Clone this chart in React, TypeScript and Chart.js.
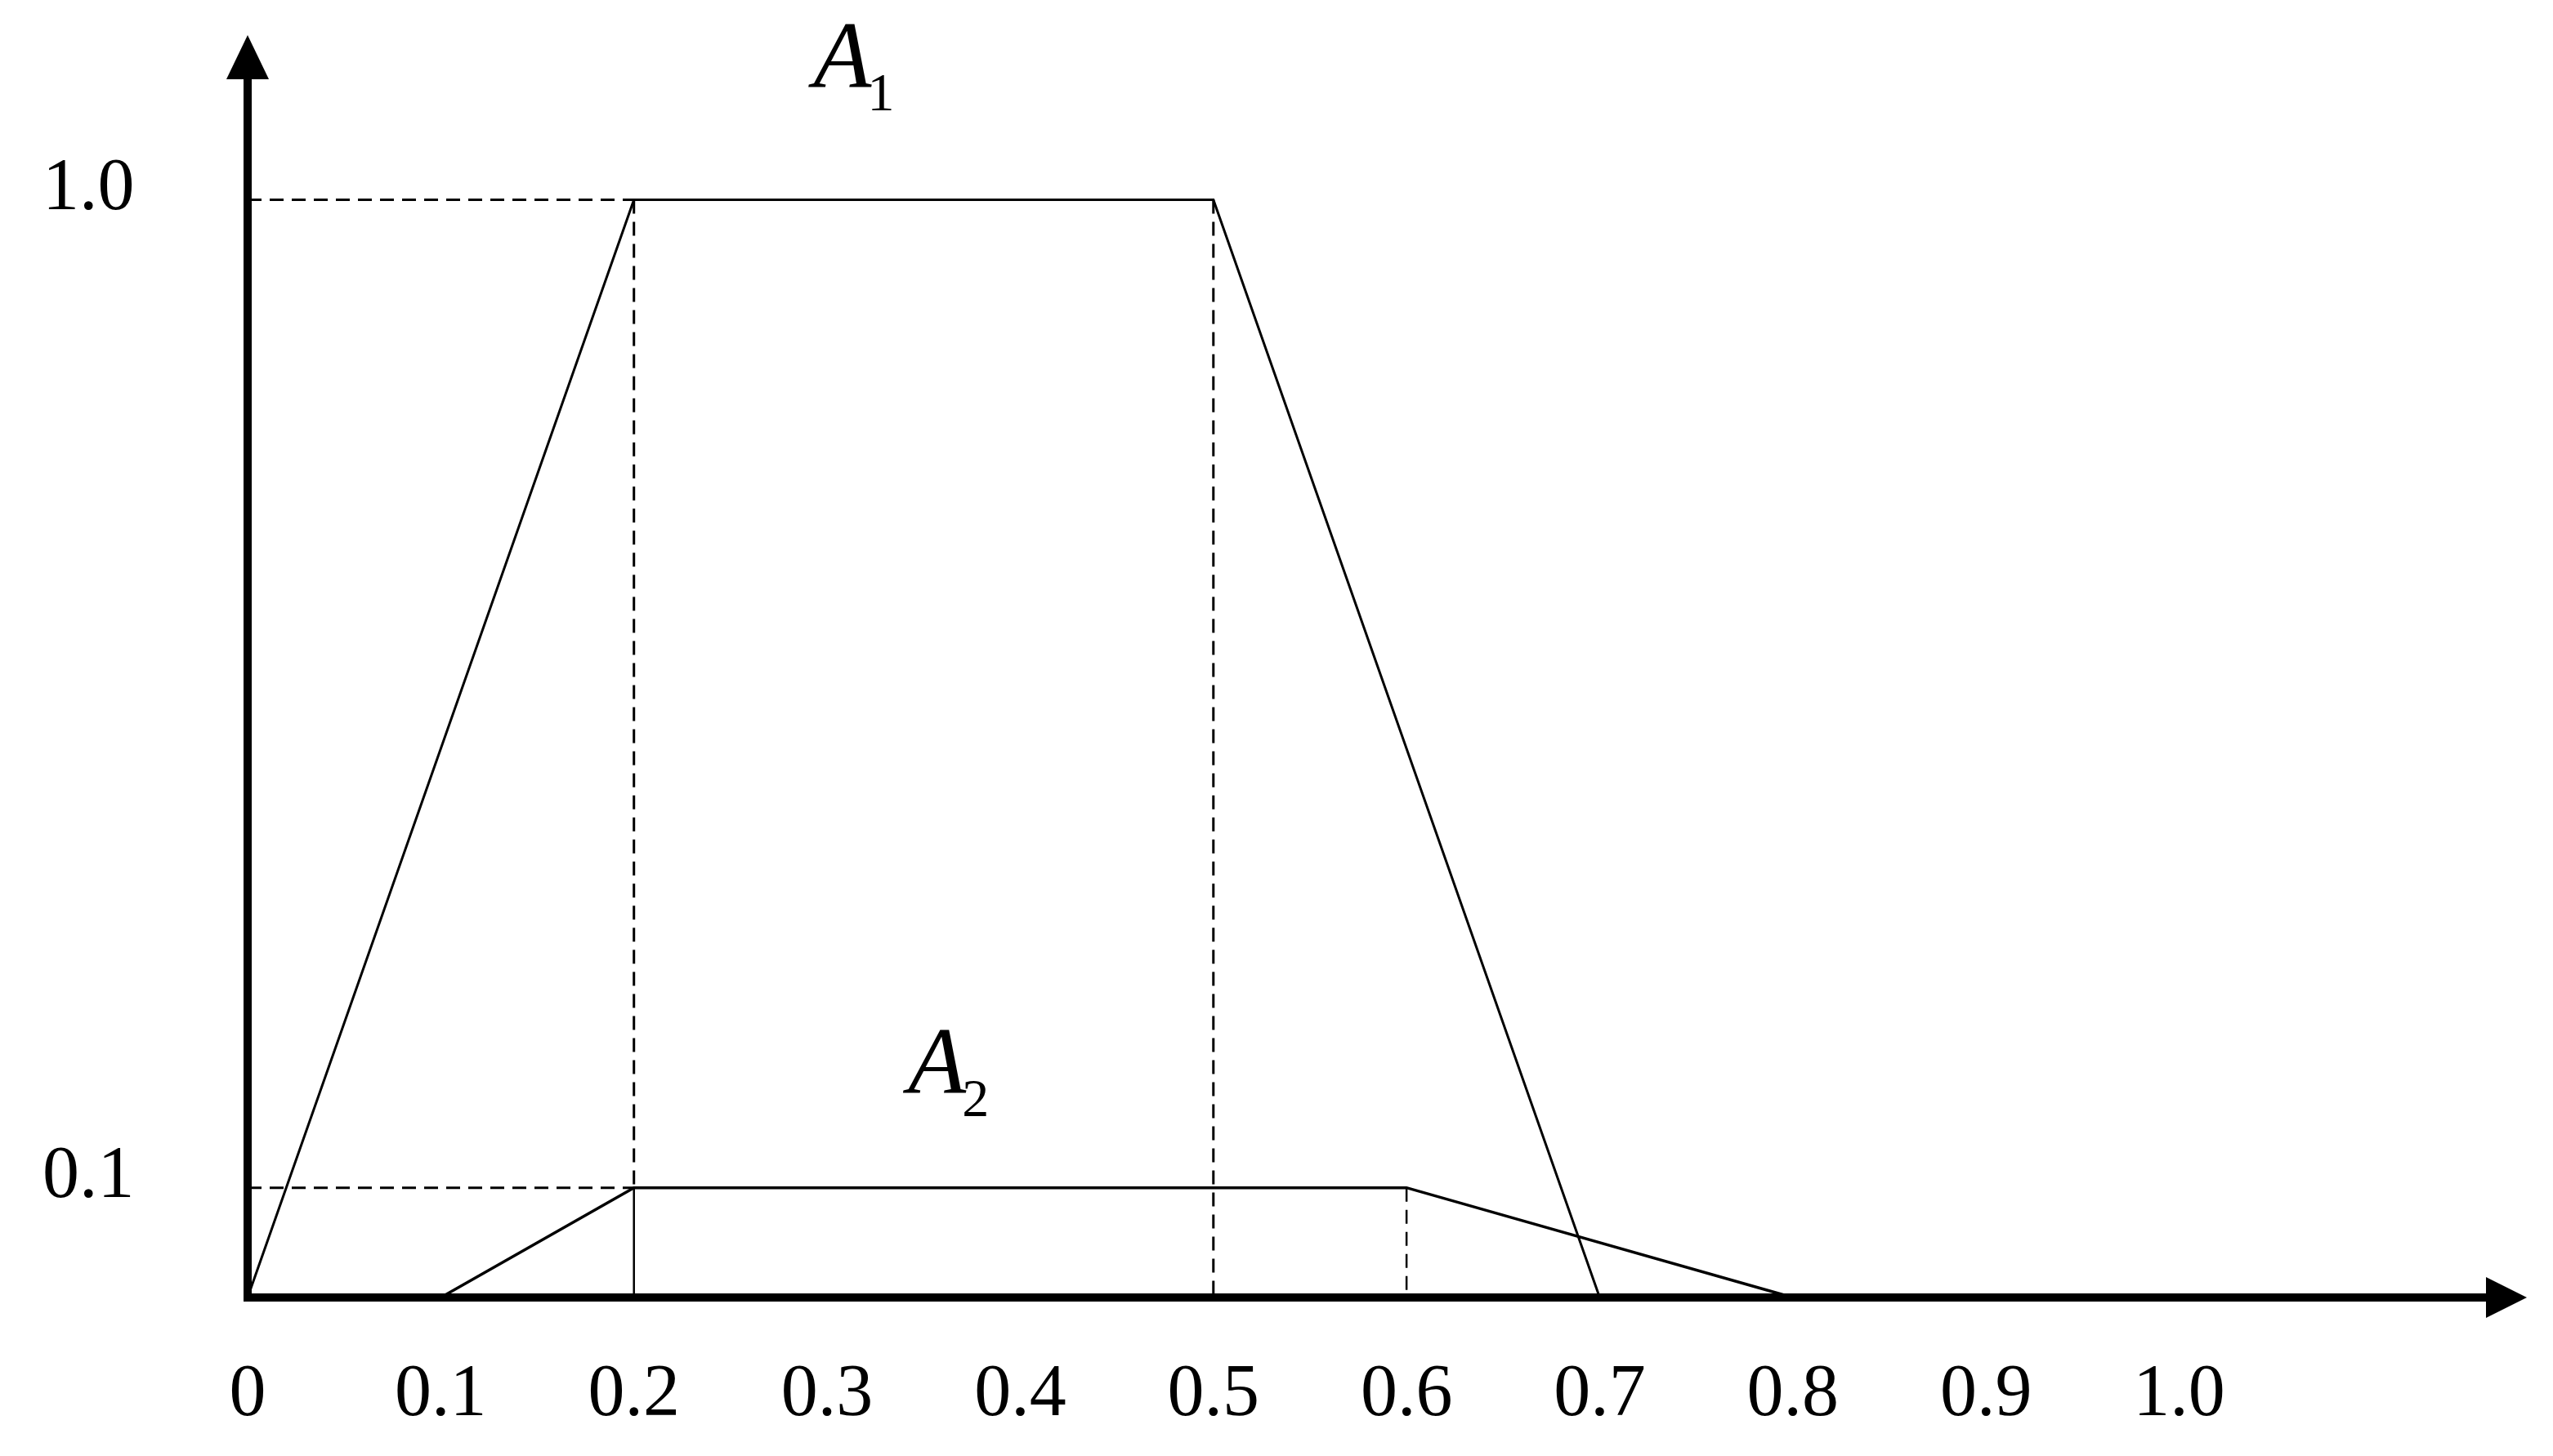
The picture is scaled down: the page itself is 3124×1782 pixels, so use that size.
import React, { useEffect, useRef } from "react";
import { Chart, registerables } from "chart.js";

Chart.register(...registerables);

// Membership function A1 (trapezoid)
const A1_X = [0, 0.2, 0.5, 0.7];
const A1_Y = [0, 1, 1, 0];
// Membership function A2 (trapezoid)
const A2_X = [0.1, 0.2, 0.6, 0.8];
const A2_Y = [0, 0.1, 0.1, 0];

// Tick labels
const X_TICKS = [0, 0.1, 0.2, 0.3, 0.4, 0.5, 0.6, 0.7, 0.8, 0.9, 1.0];
const Y_TICKS = [0.1, 1.0];

// Guide segments [x1, y1, x2, y2]
const DASHED_GUIDES = [
  [0, 1, 0.2, 1],
  [0.2, 1, 0.2, 0.1],
  [0.5, 1, 0.5, 0],
  [0, 0.1, 0.2, 0.1],
  [0.6, 0.1, 0.6, 0],
];
const SOLID_GUIDES = [[0.2, 0.1, 0.2, 0]];

// Series names and where they are written (data coordinates)
const SERIES_NAMES = ["A", "A"];
const SERIES_SUBS = ["1", "2"];
const NAME_X = [0.293, 0.342];
const NAME_Y = [1.102, 0.186];

const SERIF = '"Liberation Serif", "Times New Roman", serif';

const toPoints = (xs: number[], ys: number[]) => xs.map((x, i) => ({ x, y: ys[i] }));

const arrowAxesPlugin = {
  id: "arrowAxes",
  afterDatasetsDraw(chart: any) {
    const { ctx, chartArea, scales } = chart;
    const xs = scales.x;
    const ys = scales.y;
    const x0 = xs.getPixelForValue(0);
    const y0 = ys.getPixelForValue(0);
    ctx.save();
    ctx.fillStyle = "#000";
    ctx.strokeStyle = "#000";
    ctx.lineWidth = 10;
    ctx.lineCap = "butt";
    ctx.setLineDash([]);
    // y axis
    const tipY = chartArea.top;
    const baseY = tipY + 54;
    ctx.beginPath();
    ctx.moveTo(x0, y0 + 5);
    ctx.lineTo(x0, baseY);
    ctx.stroke();
    ctx.beginPath();
    ctx.moveTo(x0, tipY);
    ctx.lineTo(x0 - 26, baseY);
    ctx.lineTo(x0 + 26, baseY);
    ctx.closePath();
    ctx.fill();
    // x axis
    const tipX = chartArea.right;
    const baseX = tipX - 50;
    ctx.beginPath();
    ctx.moveTo(x0 - 5, y0);
    ctx.lineTo(baseX, y0);
    ctx.stroke();
    ctx.beginPath();
    ctx.moveTo(tipX, y0);
    ctx.lineTo(baseX, y0 - 25);
    ctx.lineTo(baseX, y0 + 25);
    ctx.closePath();
    ctx.fill();

    // series names with subscripts
    ctx.textBaseline = "alphabetic";
    ctx.textAlign = "left";
    SERIES_NAMES.forEach((name, i) => {
      const px = xs.getPixelForValue(NAME_X[i]);
      const py = ys.getPixelForValue(NAME_Y[i]);
      ctx.font = `italic 116px ${SERIF}`;
      ctx.fillText(name, px, py);
      const w = ctx.measureText(name).width;
      ctx.font = `66px ${SERIF}`;
      ctx.fillText(SERIES_SUBS[i], px + w - 5, py + 28);
    });
    ctx.restore();
  },
};

export default function App() {
  const canvasRef = useRef<HTMLCanvasElement | null>(null);

  useEffect(() => {
    const canvas = canvasRef.current;
    if (!canvas) return;

    const seg = (s: number[]) => [
      { x: s[0], y: s[1] },
      { x: s[2], y: s[3] },
    ];

    const datasets: any[] = [
      {
        label: "A1",
        data: toPoints(A1_X, A1_Y),
        borderColor: "#000",
        borderWidth: 3,
        showLine: true,
        pointRadius: 0,
        clip: false,
      },
      {
        label: "A2",
        data: toPoints(A2_X, A2_Y),
        borderColor: "#000",
        borderWidth: 3.5,
        showLine: true,
        pointRadius: 0,
        clip: false,
      },
      ...DASHED_GUIDES.map((s, i) => ({
        label: "dashed" + i,
        data: seg(s),
        borderColor: "#000",
        borderWidth: s[0] === 0.6 ? 2.5 : 3,
        borderDash: [17, 10],
        showLine: true,
        pointRadius: 0,
        clip: false,
      })),
      ...SOLID_GUIDES.map((s, i) => ({
        label: "solid" + i,
        data: seg(s),
        borderColor: "#000",
        borderWidth: 2.5,
        showLine: true,
        pointRadius: 0,
        clip: false,
      })),
    ];

    const chart = new Chart(canvas, {
      type: "scatter",
      data: { datasets },
      plugins: [arrowAxesPlugin],
      options: {
        animation: false,
        responsive: false,
        maintainAspectRatio: false,
        layout: { padding: { top: 35, right: 24, bottom: 0, left: 44 } },
        plugins: {
          legend: { display: false },
          tooltip: { enabled: false },
        },
        scales: {
          x: {
            type: "linear",
            min: 0,
            max: 1.18,
            grid: { display: false, drawTicks: false },
            border: { display: false },
            ticks: {
              color: "#000",
              font: { family: SERIF, size: 90 },
              padding: 66,
              autoSkip: false,
              maxRotation: 0,
              minRotation: 0,
              labelOffset: (c: any) => (c.index === 0 ? 16 : 0),
              callback: (v: any) => (Number(v) === 0 ? "0" : Number(v).toFixed(1)),
            },
            afterBuildTicks: (scale: any) => {
              scale.ticks = X_TICKS.map((v) => ({ value: v }));
            },
            afterFit: (scale: any) => {
              scale.height = 186;
            },
          },
          y: {
            type: "linear",
            min: 0,
            max: 1.15,
            grid: { display: false, drawTicks: false },
            border: { display: false },
            ticks: {
              color: "#000",
              font: { family: SERIF, size: 90, lineHeight: 0.5 },
              padding: 0,
              crossAlign: "far",
              autoSkip: false,
              labelOffset: -12,
              callback: (v: any) => Number(v).toFixed(1),
            },
            afterBuildTicks: (scale: any) => {
              scale.ticks = Y_TICKS.map((v) => ({ value: v }));
            },
            afterFit: (scale: any) => {
              scale.width = 251;
            },
          },
        },
      } as any,
    });

    return () => {
      chart.destroy();
    };
  }, []);

  return (
    <div style={{ width: 3108, height: 1766, background: "#fff" }}>
      <canvas ref={canvasRef} width={3108} height={1766} style={{ display: "block" }} />
    </div>
  );
}
